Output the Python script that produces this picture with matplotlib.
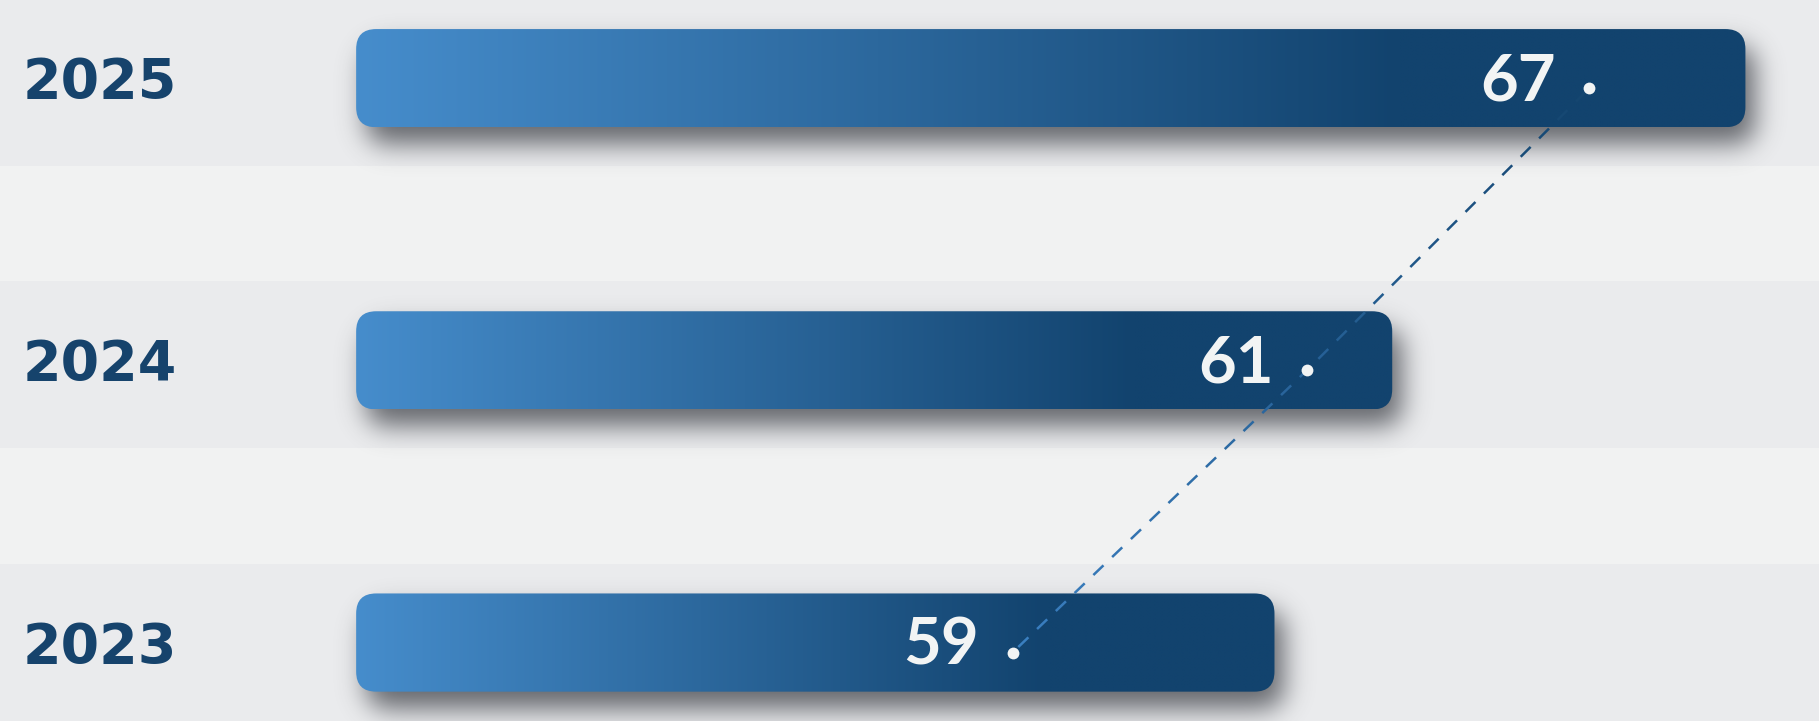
import numpy as np
import matplotlib.pyplot as plt
from matplotlib.patches import FancyBboxPatch
from matplotlib.collections import LineCollection
from matplotlib.colors import to_rgb

# 数据
years = ['2023', '2024', '2025']
values = [59, 61, 67]
dot_pos = [54.55, 59.55, 64.35]   # 白色圆点在条形上的位置
base = 43.4                       # 条形起点

rows = np.arange(len(years))
bar_h = 0.348

fig = plt.figure(figsize=(18.19, 7.21), dpi=100)
fig.patch.set_facecolor('#f1f2f2')
ax = fig.add_axes([0, 0, 1, 1])
xlim = (37.35, 68.25)
ylim = (-0.278, 2.277)
ax.set_xlim(*xlim)
ax.set_ylim(*ylim)
ax.axis('off')

# 每行的灰色背景带
for y in rows:
    ax.axhspan(y - 0.31, y + 0.28, color='#eaebed', lw=0, zorder=0)

# 像素比例，用于圆角和阴影
px_x = ax.transData.transform((1, 0))[0] - ax.transData.transform((0, 0))[0]
px_y = ax.transData.transform((0, 1))[1] - ax.transData.transform((0, 0))[1]
asp = px_x / px_y
r = 20 / px_x

# 阴影：模糊的圆角矩形
W, H = 1819, 721
gx, gy = np.meshgrid(np.arange(W) + 0.5, np.arange(H) + 0.5)
alpha = np.zeros((H, W))
for y, v in zip(rows, values):
    (x0, y0), (x1, y1) = ax.transData.transform([(base, y - bar_h / 2), (v, y + bar_h / 2)])
    x0, x1 = x0 + 10, x1 + 10
    y0, y1 = y0 - 17, y1 - 17
    cx, cy = (x0 + x1) / 2, (y0 + y1) / 2
    hw, hh = (x1 - x0) / 2, (y1 - y0) / 2
    dx = np.maximum(np.abs(gx - cx) - (hw - 20), 0)
    dy = np.maximum(np.abs(gy - cy) - (hh - 20), 0)
    alpha += (np.hypot(dx, dy) <= 20).astype(float)
sig = 13
kx = np.arange(-45, 46)
k = np.exp(-kx ** 2 / (2 * sig ** 2))
k /= k.sum()
alpha = np.apply_along_axis(lambda m: np.convolve(m, k, mode='same'), 1, alpha)
alpha = np.apply_along_axis(lambda m: np.convolve(m, k, mode='same'), 0, alpha)
shadow = np.zeros((H, W, 4))
shadow[..., :3] = to_rgb('#383b42')
shadow[..., 3] = np.clip(alpha, 0, 1) * 0.75
ax.imshow(shadow, extent=(*xlim, *ylim), origin='lower', aspect='auto',
          interpolation='bilinear', zorder=1)

# 渐变条形
c0 = np.array(to_rgb('#468dcc'))
c1 = np.array(to_rgb('#12436e'))
t = np.linspace(0, 1, 400)
s = np.clip(t / 0.75, 0, 1)[:, None]
grad = (c0 + (c1 - c0) * s)[None, :, :]
for y, v in zip(rows, values):
    patch = FancyBboxPatch((base, y - bar_h / 2), v - base, bar_h,
                           boxstyle=f'round,pad=0,rounding_size={r}',
                           mutation_aspect=asp, fc='none', ec='none', zorder=2)
    ax.add_patch(patch)
    im = ax.imshow(grad, extent=(base, v, y - bar_h / 2, y + bar_h / 2),
                   aspect='auto', interpolation='bilinear', zorder=2)
    im.set_clip_path(patch)
ax.set_xlim(*xlim)
ax.set_ylim(*ylim)

# 虚线趋势线（颜色由浅到深）
dot_y = rows - 10 / px_y
pts = ax.transData.transform(np.column_stack([dot_pos, dot_y]))
seg_len = np.hypot(*np.diff(pts, axis=0).T)
cum = np.concatenate([[0], np.cumsum(seg_len)])
total = cum[-1]
dash, gap = 14, 12


def point_at(d):
    i = min(np.searchsorted(cum, d, side='right') - 1, len(seg_len) - 1)
    f = (d - cum[i]) / seg_len[i]
    return pts[i] + (pts[i + 1] - pts[i]) * f


segs, cols = [], []
lc0 = np.array(to_rgb('#3b80c2'))
lc1 = np.array(to_rgb('#14456f'))
d = 8
while d < total:
    e = min(d + dash, total)
    a, b = point_at(d), point_at(e)
    segs.append(ax.transData.inverted().transform([a, b]))
    f = (d + e) / 2 / total
    cols.append(lc0 + (lc1 - lc0) * f)
    d += dash + gap
ax.add_collection(LineCollection(segs, colors=cols, linewidths=1.8, zorder=3))

# 圆点
ax.plot(dot_pos, dot_y, 'o', ms=8.5, color='#f2f4f4', mec='none', zorder=5)

# 数值标签
for y, v, p in zip(rows, values, dot_pos):
    ax.annotate(str(v), xy=(p, y), xytext=(-109, -22), textcoords='offset pixels',
                ha='left', va='baseline', color='#f2f4f4', fontsize=47,
                family='Lato', weight='bold', zorder=6)

# 年份标签
for y, lab in zip(rows, years):
    ax.annotate(lab, xy=(23 / W, y), xycoords=('axes fraction', 'data'),
                xytext=(0, -20), textcoords='offset pixels', ha='left', va='baseline',
                color='#16436c', fontsize=40, family='DejaVu Sans', weight='bold')

fig.savefig('out.png', dpi=100, facecolor=fig.get_facecolor())
